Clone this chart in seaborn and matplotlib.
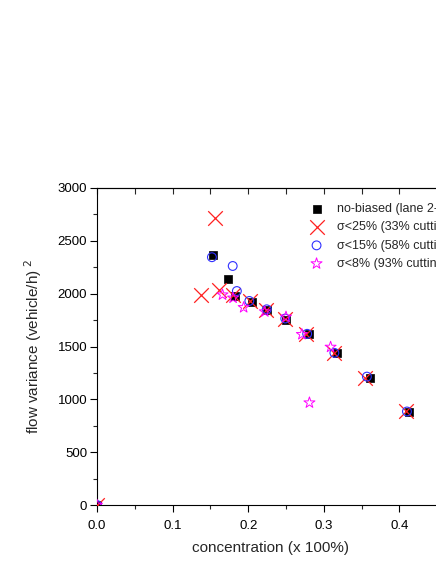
import pandas as pd
import matplotlib
matplotlib.use("Agg")
import matplotlib.pyplot as plt
import seaborn as sns
from matplotlib.ticker import MultipleLocator

# data
nb_x = [0.0, 0.153, 0.173, 0.183, 0.205, 0.225, 0.250, 0.280, 0.317, 0.361, 0.413]
nb_y = [0, 2370, 2140, 1980, 1925, 1845, 1755, 1615, 1440, 1200, 880]

s25_x = [0.0, 0.156, 0.138, 0.162, 0.180, 0.203, 0.224, 0.249, 0.277, 0.314, 0.355, 0.409]
s25_y = [0, 2720, 1990, 2035, 1985, 1930, 1850, 1760, 1615, 1440, 1205, 885]

s15_x = [0.0, 0.152, 0.1795, 0.185, 0.2015, 0.2245, 0.249, 0.278, 0.314, 0.357, 0.410]
s15_y = [0, 2345, 2262, 2025, 1931, 1852, 1765, 1620, 1440, 1215, 885]

s8_x = [0.0, 0.166, 0.180, 0.194, 0.222, 0.250, 0.271, 0.309, 0.281]
s8_y = [0, 1990, 1960, 1870, 1830, 1780, 1615, 1495, 968]

labels = ["no-biased (lane 2-3)", "σ<25% (33% cutting)",
          "σ<15% (58% cutting)", "σ<8% (93% cutting)"]

sns.set_style("ticks")
plt.rcParams["font.family"] = ["Liberation Sans", "DejaVu Sans"]

fig = plt.figure(figsize=(4.36, 5.64), dpi=100)
ax = fig.add_axes([97 / 436, 59 / 564, 0.46 * 756 / 436, 317 / 564])

sns.scatterplot(x=nb_x, y=nb_y, ax=ax, marker="s", s=36, color="black",
                edgecolor="black", linewidth=0.5, label=labels[0], zorder=3)
sns.scatterplot(x=s25_x, y=s25_y, ax=ax, marker="x", s=110, color="#ff2020",
                linewidth=0.9, label=labels[1], zorder=4)
sns.scatterplot(x=s15_x, y=s15_y, ax=ax, marker="o", s=40, facecolor="none",
                edgecolor="#3030ff", linewidth=0.8, label=labels[2], zorder=5)
sns.scatterplot(x=s8_x, y=s8_y, ax=ax, marker="*", s=70, facecolor="none",
                edgecolor="#ff00ff", linewidth=0.7, label=labels[3], zorder=6)

ax.set_xlim(0, 0.46)
ax.set_ylim(0, 3000)
ax.xaxis.set_major_locator(MultipleLocator(0.1))
ax.xaxis.set_minor_locator(MultipleLocator(0.05))
ax.yaxis.set_major_locator(MultipleLocator(500))
ax.yaxis.set_minor_locator(MultipleLocator(250))
ax.xaxis.set_major_formatter(plt.FuncFormatter(lambda v, p: f"{v:.1f}"))

ax.tick_params(axis="both", which="major", direction="out", length=5,
               width=0.8, labelsize=9.5, colors="black")
ax.tick_params(axis="both", which="minor", direction="out", length=3, width=0.8)
ax.tick_params(axis="x", which="both", top=False, pad=6)
ax.tick_params(axis="y", which="major", pad=2)
for sp in ax.spines.values():
    sp.set_visible(True)
    sp.set_linewidth(0.8)
    sp.set_color("black")

# top axis: ticks pointing inward, no labels
top = ax.secondary_xaxis("top")
top.xaxis.set_major_locator(MultipleLocator(0.1))
top.xaxis.set_minor_locator(MultipleLocator(0.05))
top.tick_params(which="both", direction="in", length=4, width=0.8, labeltop=False)
top.spines["top"].set_linewidth(0.8)

ax.set_xlabel("concentration (x 100%)", fontsize=11, labelpad=6)
ax.set_ylabel("flow variance (vehicle/h)$^{\\ 2}$", fontsize=11, labelpad=10)

leg = ax.legend(loc="upper left", bbox_to_anchor=(0.581, 0.968), frameon=False,
                fontsize=9, handletextpad=0.6, labelspacing=0.5,
                borderaxespad=0)

fig.savefig("out.png", dpi=100)
